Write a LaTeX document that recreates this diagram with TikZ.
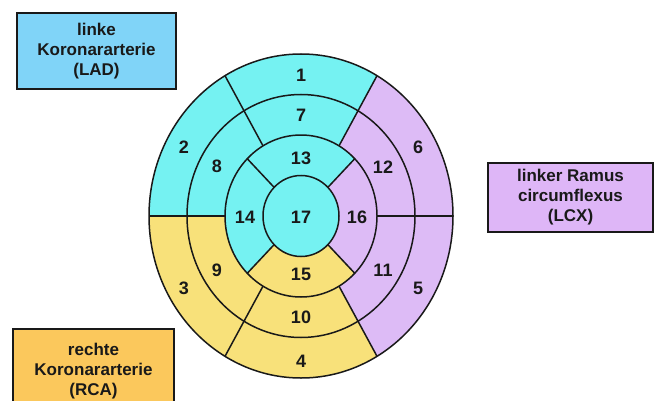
\documentclass[tikz,border=0pt]{standalone}
\usepackage{fontspec}
\setmainfont{Liberation Sans}
\definecolor{cyanseg}{RGB}{117,242,242}
\definecolor{lavseg}{RGB}{221,187,246}
\definecolor{yelseg}{RGB}{248,225,122}
\definecolor{ladbox}{RGB}{128,212,248}
\definecolor{lcxbox}{RGB}{222,182,247}
\definecolor{rcabox}{RGB}{251,200,92}
\definecolor{ink}{RGB}{25,25,25}
\newcommand\sector[5]{%
 \pgfmathsetmacro\ria{#4*152}\pgfmathsetmacro\rib{#4*162}%
 \pgfmathsetmacro\roa{#5*152}\pgfmathsetmacro\rob{#5*162}%
 \fill[#1] (#2:\roa pt and \rob pt) arc[start angle=#2,end angle=#3,x radius=\roa pt,y radius=\rob pt]
   -- (#3:\ria pt and \rib pt) arc[start angle=#3,end angle=#2,x radius=\ria pt,y radius=\rib pt] -- cycle;}
\begin{document}
\begin{tikzpicture}[x=1pt,y=1pt,
 num/.style={font=\bfseries\fontsize{18}{20}\selectfont, text=ink, inner sep=0pt},
 box/.style={draw=ink, line width=1.6pt, align=center, text=ink,
   font=\bfseries\fontsize{17}{20}\selectfont, inner sep=0pt},
 segline/.style={line width=1.5pt, draw=ink}]
\useasboundingbox (0,0) rectangle (655,-401);
\clip (0,0) rectangle (655,-401);
\begin{scope}[shift={(301,-216)}]
 % outer two rings
 \foreach \kin/\kout in {0.75/1,0.5/0.75}{
  \sector{cyanseg}{60}{180}{\kin}{\kout}
  \sector{yelseg}{180}{300}{\kin}{\kout}
  \sector{lavseg}{-60}{60}{\kin}{\kout}
 }
 % inner ring
 \sector{cyanseg}{45}{225}{0.25}{0.5}
 \sector{yelseg}{225}{315}{0.25}{0.5}
 \sector{lavseg}{-45}{45}{0.25}{0.5}
 \fill[cyanseg] (0,0) ellipse [x radius=38pt, y radius=40.5pt];
 % outlines
 \foreach \k in {1,0.75,0.5,0.25}
  \draw[segline] (0,0) ellipse [x radius=\k*152pt, y radius=\k*162pt];
 \foreach \a in {0,60,...,300}
  \draw[segline] (\a:76pt and 81pt) -- (\a:152pt and 162pt);
 \foreach \a in {45,135,225,315}
  \draw[segline] (\a:38pt and 40.5pt) -- (\a:76pt and 81pt);
\end{scope}
% segment numbers
\node[num] (n1) at (301,-75) {1};
\node[num] (n2) at (184,-147) {2};
\node[num] (n3) at (184,-288) {3};
\node[num] (n4) at (301,-361) {4};
\node[num] (n5) at (418,-288) {5};
\node[num] (n6) at (418,-147) {6};
\node[num] (n7) at (301,-115) {7};
\node[num] (n8) at (217,-166) {8};
\node[num] (n9) at (217,-270) {9};
\node[num] (n10) at (301,-317) {10};
\node[num] (n11) at (383,-270) {11};
\node[num] (n12) at (383,-167) {12};
\node[num] (n13) at (301,-158) {13};
\node[num] (n14) at (245,-217) {14};
\node[num] (n15) at (301,-274) {15};
\node[num] (n16) at (357,-217) {16};
\node[num] (n17) at (301,-217) {17};
% legend boxes
\node[box, fill=ladbox, minimum width=159pt, minimum height=76pt] (lad) at (96.5,-51)
  {linke\\Koronararterie\\(LAD)};
\node[box, fill=lcxbox, minimum width=165pt, minimum height=69pt] (lcx) at (570.5,-197.5)
  {linker Ramus\\circumflexus\\(LCX)};
\node[box, fill=rcabox, minimum width=161pt, minimum height=84pt, anchor=north] (rca) at (93.5,-328)
  {rechte\\Koronararterie\\(RCA)};
\end{tikzpicture}
\end{document}
